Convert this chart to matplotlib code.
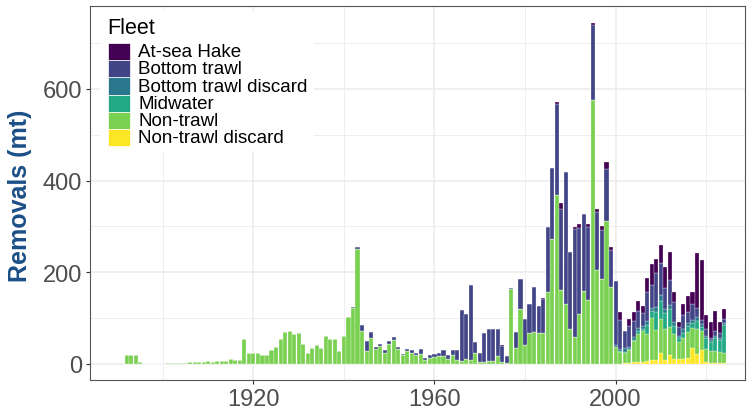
import numpy as np
import matplotlib
matplotlib.use("Agg")
from matplotlib import pyplot as plt
from matplotlib.patches import Rectangle

plt.rcParams['font.family'] = ['Liberation Sans', 'DejaVu Sans']

# removals by fleet (mt)
years = np.arange(1892, 2025)

non_trawl = [
    20, 20, 20, 5, 1, 1, 1, 1, 1, 2,            # 1892-1901
    2, 2, 3, 3, 4, 4, 5, 5, 6, 5,               # 1902-1911
    6, 7, 7, 10, 8, 9, 55, 25, 23, 23,          # 1912-1921
    19, 20, 31, 38, 54, 69, 72, 66, 67, 44,     # 1922-1931
    25, 35, 42, 35, 61, 54, 55, 28, 60, 103,    # 1932-1941
    122, 250, 73, 29, 57, 33, 40, 25, 44, 52,   # 1942-1951
    32, 20, 28, 25, 20, 22, 8, 13, 15, 17,      # 1952-1961
    18, 11, 20, 9, 7, 10, 8, 25, 4, 4,          # 1962-1971
    7, 7, 18, 5, 2, 164, 35, 121, 42, 68,       # 1972-1981
    69, 68, 67, 158, 273, 369, 162, 131, 76, 59,  # 1982-1991
    109, 160, 140, 577, 204, 185, 313, 167, 37, 25,  # 1992-2001
    23, 27, 45, 61, 68, 58, 92, 66, 73, 67,     # 2002-2011
    61, 55, 36, 45, 57, 44, 54, 41, 28, 25,     # 2012-2021
    25, 25, 22,                                 # 2022-2024
]

bottom_trawl_start = 1942
bottom_trawl = [
    3, 6, 12, 21, 12, 3, 4, 5, 7, 7,            # 1942-1951
    6, 2, 5, 5, 5, 11, 5, 7, 7, 7,              # 1952-1961
    12, 9, 10, 21, 110, 98, 164, 24, 19, 64,    # 1962-1971
    69, 69, 58, 34, 16, 2, 34, 64, 56, 63,      # 1972-1981
    98, 58, 75, 140, 155, 198, 176, 287, 168, 235,  # 1982-1991
    187, 167, 158, 163, 127, 108, 112, 81, 140, 62,  # 1992-2001
    38, 45, 35, 38, 30, 65, 50, 75, 70, 45,     # 2002-2011
    55, 45, 20, 30, 25, 35, 20, 10, 15, 5,      # 2012-2021
    10, 10, 10,                                 # 2022-2024
]

at_sea_hake_start = 1975
at_sea_hake = [
    2, 0, 0, 0, 0, 0, 0, 0, 0, 2,               # 1975-1984
    0, 0, 4, 13, 0, 0, 4, 9, 0, 7,              # 1985-1994
    4, 7, 9, 15, 7, 0, 18, 0, 15, 20,           # 1995-2004
    22, 15, 30, 45, 30, 40, 45, 60, 20, 10,     # 2005-2014
    25, 35, 25, 120, 130, 30, 35, 45, 25, 20,   # 2015-2024
]

recent_start = 2000
bottom_trawl_discard = [5, 5, 8, 6, 6, 6, 5, 8, 8, 10, 12, 10, 8, 8, 5,
                        8, 6, 6, 8, 6, 5, 4, 5, 5, 5]
midwater = [0, 2, 2, 2, 3, 6, 5, 20, 15, 40, 40, 35, 40, 17, 9,
            12, 14, 12, 18, 10, 25, 20, 28, 25, 60]
non_trawl_discard = [0, 1, 2, 3, 5, 5, 4, 7, 8, 8, 25, 9, 20, 11, 11,
                     11, 12, 34, 22, 30, 4, 3, 3, 2, 2]

fleets = ["At-sea Hake", "Bottom trawl", "Bottom trawl discard",
          "Midwater", "Non-trawl", "Non-trawl discard"]
colors = ["#440154", "#414487", "#2A788E", "#22A884", "#7AD151", "#FDE725"]


def pad(values, start):
    out = np.zeros(len(years))
    i = start - years[0]
    out[i:i + len(values)] = values
    return out


series = {
    "At-sea Hake": pad(at_sea_hake, at_sea_hake_start),
    "Bottom trawl": pad(bottom_trawl, bottom_trawl_start),
    "Bottom trawl discard": pad(bottom_trawl_discard, recent_start),
    "Midwater": pad(midwater, recent_start),
    "Non-trawl": pad(non_trawl, years[0]),
    "Non-trawl discard": pad(non_trawl_discard, recent_start),
}

W, H = 754, 410
fig = plt.figure(figsize=(W / 100, H / 100), dpi=100)
# panel in pixels: left 90, right 745, top 7, bottom 381
ax = fig.add_axes([90 / W, (H - 381) / H, 655 / W, 374 / H])

# stack bottom-up: last fleet at the bottom (ggplot order)
bottom = np.zeros(len(years))
for name, col in zip(fleets[::-1], colors[::-1]):
    vals = series[name]
    ax.bar(years, vals, width=0.9, bottom=bottom, color=col,
           edgecolor="white", linewidth=0.2, zorder=3)
    bottom += vals

ax.set_xlim(1883.9, 2028.6)
ax.set_ylim(-35, 781)

ax.set_xticks([1920, 1960, 2000])
ax.set_xticks([1900, 1940, 1980, 2020], minor=True)
ax.set_yticks([0, 200, 400, 600])
ax.set_yticks([100, 300, 500, 700], minor=True)
ax.grid(which="major", color="#EBEBEB", linewidth=1.1, zorder=0)
ax.grid(which="minor", color="#EBEBEB", linewidth=0.6, zorder=0)
ax.set_axisbelow(True)

ax.tick_params(which="major", length=3, width=0.8, color="#333333",
               labelsize=17, labelcolor="#4D4D4D", pad=2.5)
ax.tick_params(which="minor", length=0)
for s in ax.spines.values():
    s.set_color("#555555")
    s.set_linewidth(0.8)

fig.text(20 / W, (H - 196) / H, "Removals (mt)", rotation=90,
         ha="center", va="center", fontsize=18, fontweight="bold",
         color="#1B4F86")

# legend drawn inside the panel, top-left
def fx(px):
    return px / W


def fy(py):
    return (H - py) / H


fig.add_artist(Rectangle((fx(100), fy(152)), fx(314) - fx(100),
                         fy(12) - fy(152), transform=fig.transFigure,
                         facecolor="white", edgecolor="none", zorder=4))
fig.text(fx(107), fy(28), "Fleet", fontsize=15.5, va="center", ha="left",
         color="black", zorder=5)
row_h = 17.2
for i, (name, col) in enumerate(zip(fleets, colors)):
    top = 44 + i * row_h
    fig.add_artist(Rectangle((fx(108), fy(top + row_h)), fx(130) - fx(108),
                             fy(top) - fy(top + row_h),
                             transform=fig.transFigure, facecolor=col,
                             edgecolor="white", linewidth=0.5, zorder=5))
    fig.text(fx(138), fy(top + row_h / 2), name, fontsize=13.5,
             va="center", ha="left", color="black", zorder=5)

fig.savefig("out.png", dpi=100)
